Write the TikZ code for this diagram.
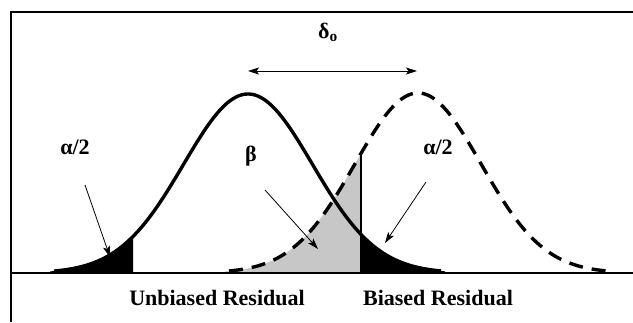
\documentclass[tikz,border=0pt]{standalone}
\usepackage{fontspec}
\setmainfont{Liberation Serif}
\usetikzlibrary{arrows.meta}
\begin{document}
\begin{tikzpicture}[x=1pt,y=-1pt,
  curve/.style={line width=3.4pt, line join=round},
  dashcurve/.style={curve, dash pattern=on 14pt off 9pt},
  pointer/.style={line width=0.8pt,-{Stealth[length=11pt,width=7pt,inset=2.5pt]}},
  lbl/.style={font=\fontsize{22}{25}\selectfont\bfseries, inner sep=0pt},
  caption/.style={font=\fontsize{22}{26}\selectfont\bfseries, inner sep=0pt, anchor=base}]
\useasboundingbox (0,0) rectangle (633,322);
% shaded areas
\fill[black!22] (225,273) -- plot[domain=225:361,samples=60] (\x,{273-180*exp(-0.5*((\x-418)/63)^2)}) -- (361,273) -- cycle;
\fill[black] (50,273) -- plot[domain=50:133,samples=40] (\x,{273-179*exp(-0.5*((\x-248)/64.5)^2)}) -- (133,273) -- cycle;
\fill[black] (361,273) -- plot[domain=361:445,samples=40] (\x,{273-179*exp(-0.5*((\x-248)/64.5)^2)}) -- (445,273) -- cycle;
\draw[line width=1.3pt] (361,153) -- (361,273);
% baseline and frame
\draw[line width=2.4pt] (11,273) -- (633,273);
\draw[line width=2pt] (11,322) -- (11,12) -- (633,12);
% curves
\draw[curve] plot[domain=54:441,samples=120] (\x,{273-179*exp(-0.5*((\x-248)/64.5)^2)});
\draw[dashcurve] plot[domain=229:610,samples=120] (\x,{273-180*exp(-0.5*((\x-418)/63)^2)});
% labels
\node[lbl] (delta) at (328,32) {δ\textsubscript{o}};
\node[lbl] (aleft) at (75,147) {α/2};
\node[lbl] (beta) at (251,156) {β};
\node[lbl] (aright) at (438,147) {α/2};
\node[caption] (unb) at (217,305) {Unbiased Residual};
\node[caption] (bia) at (438,305) {Biased Residual};
% arrows
\coordinate (dl) at (248,71);
\coordinate (dr) at (417,71);
\draw[line width=0.8pt,{Stealth[length=11pt,width=7pt,inset=2.5pt]}-{Stealth[length=11pt,width=7pt,inset=2.5pt]}] (dl) -- (dr);
\coordinate (p1s) at (85,185);
\coordinate (p1e) at (110,257);
\draw[pointer] (p1s) -- (p1e);
\coordinate (p2s) at (265,190);
\coordinate (p2e) at (318,249);
\draw[pointer] (p2s) -- (p2e);
\coordinate (p3s) at (426,182);
\coordinate (p3e) at (385,243);
\draw[pointer] (p3s) -- (p3e);
\end{tikzpicture}
\end{document}
